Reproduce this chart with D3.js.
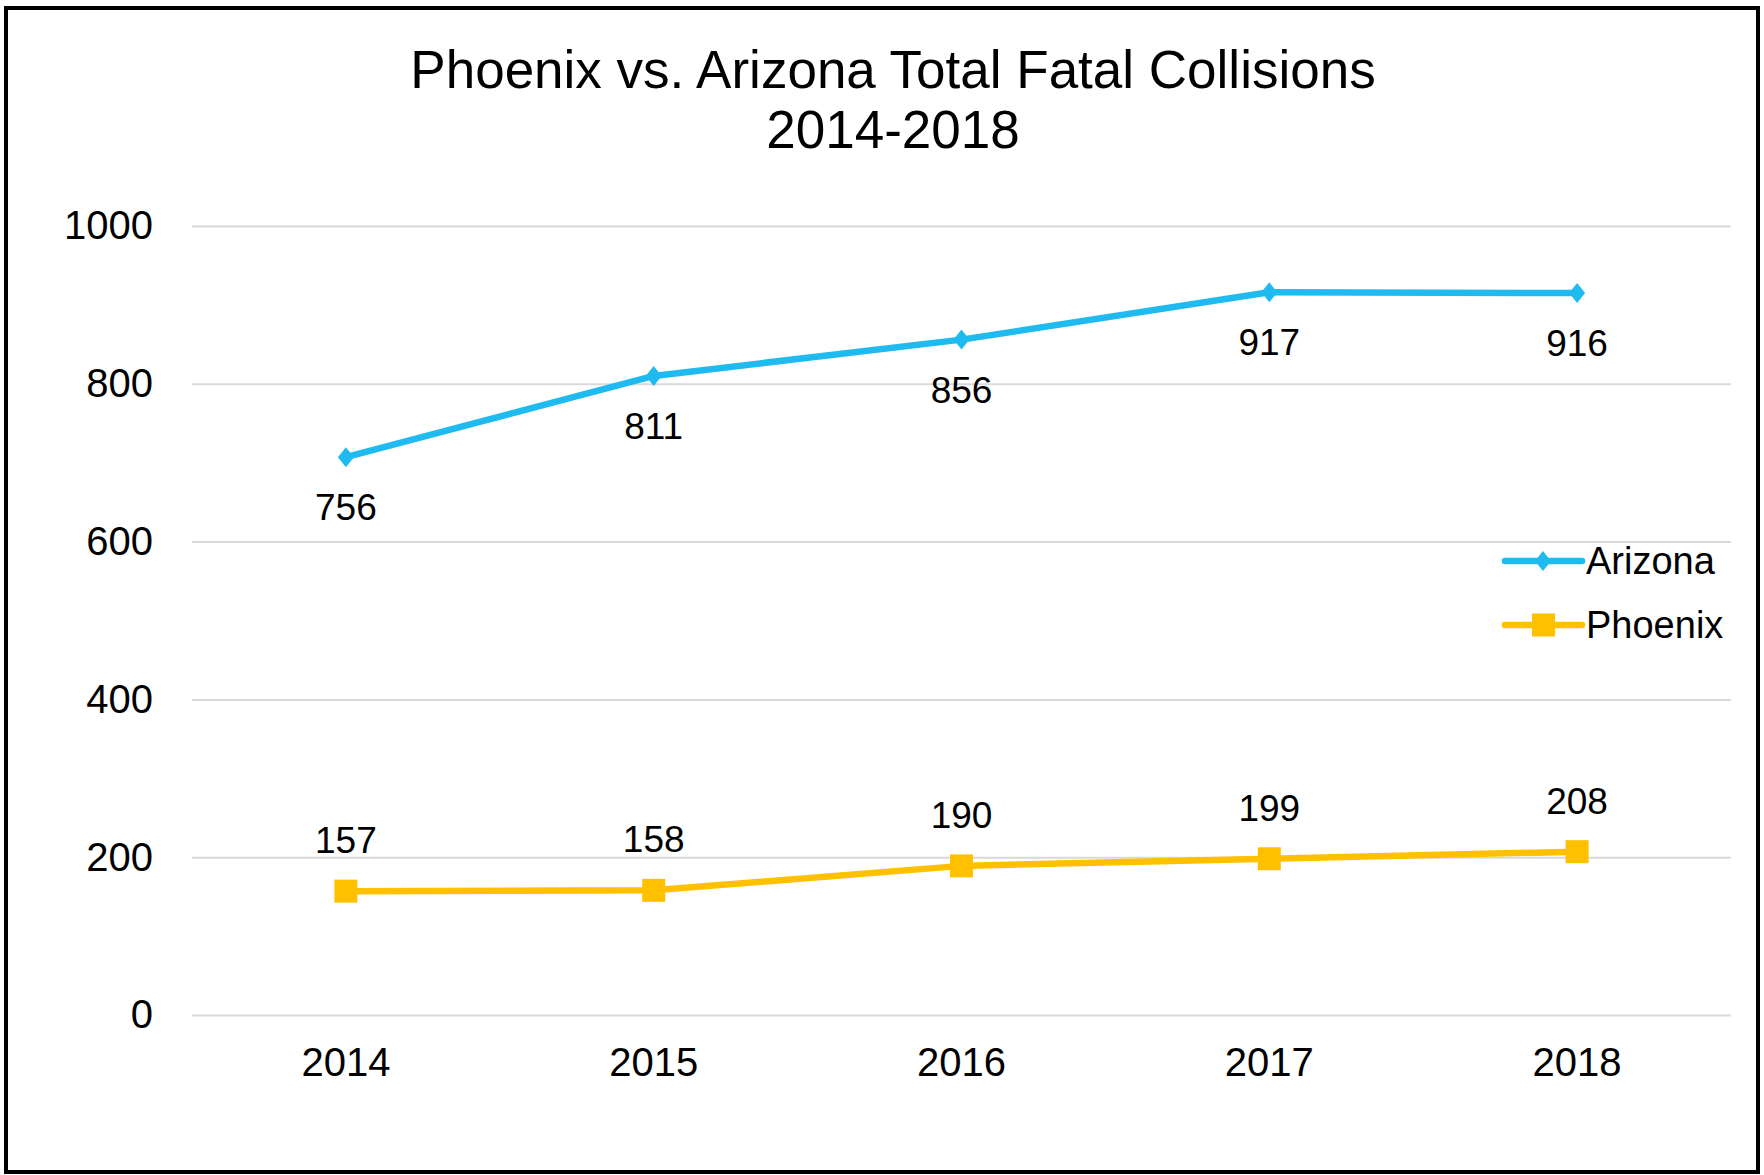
<!DOCTYPE html>
<html>
<head>
<meta charset="utf-8">
<script src="https://cdn.jsdelivr.net/npm/d3@7"></script>
<style>
  html, body { margin: 0; padding: 0; background: #fff; }
  svg { display: block; font-family: "Liberation Sans", Arial, sans-serif; }
</style>
</head>
<body>
<svg id="chart" width="1764" height="1175"></svg>
<script>
const titleLines = ["Phoenix vs. Arizona Total Fatal Collisions", "2014-2018"];
const years = ["2014", "2015", "2016", "2017", "2018"];
const arizona = [707, 810, 856, 916, 915];
const arizonaLabels = ["756", "811", "856", "917", "916"];
const phoenix = [157, 158, 189, 198, 207];
const phoenixLabels = ["157", "158", "190", "199", "208"];
const yTicks = [0, 200, 400, 600, 800, 1000];
const seriesNames = ["Arizona", "Phoenix"];

const W = 1764, H = 1175;
const svg = d3.select("#chart");

svg.append("rect").attr("x", 0).attr("y", 0).attr("width", W).attr("height", H).attr("fill", "#fff");
svg.append("rect").attr("x", 6).attr("y", 8).attr("width", 1752).attr("height", 1164)
  .attr("fill", "none").attr("stroke", "#000").attr("stroke-width", 4);

const plot = { left: 192, right: 1731, top: 226, bottom: 1015 };

const x = d3.scaleBand().domain(years).range([plot.left, plot.right]);
const cx = d => x(d) + x.bandwidth() / 2;
const y = d3.scaleLinear().domain([0, 1000]).range([plot.bottom, plot.top]);

// title
svg.append("g").selectAll("text").data(titleLines).join("text")
  .attr("x", 893).attr("y", (d, i) => 88 + i * 60)
  .attr("text-anchor", "middle").attr("font-size", 53).attr("fill", "#000")
  .text(d => d);

// gridlines
const yAxis = d3.axisLeft(y).tickValues(yTicks).tickSize(-(plot.right - plot.left)).tickPadding(39).tickFormat(d3.format("d"));
const gy = svg.append("g").attr("transform", `translate(${plot.left},0)`).call(yAxis);
gy.select(".domain").remove();
gy.selectAll(".tick line").attr("stroke", "#D9D9D9").attr("stroke-width", 2);
gy.selectAll(".tick text").attr("font-size", 40).attr("fill", "#000")
  .attr("font-family", "'Liberation Sans', Arial, sans-serif");

// x axis
const xAxis = d3.axisBottom(x).tickSize(0).tickPadding(33);
const gx = svg.append("g").attr("transform", `translate(0,${plot.bottom})`).call(xAxis);
gx.select(".domain").remove();
gx.selectAll(".tick text").attr("font-size", 40).attr("fill", "#000")
  .attr("font-family", "'Liberation Sans', Arial, sans-serif");

const blue = "#1FBBF0", gold = "#FFC000";
const line = d3.line().x(d => cx(d.year)).y(d => y(d.value));

const az = years.map((yr, i) => ({ year: yr, value: arizona[i], label: arizonaLabels[i] }));
const px = years.map((yr, i) => ({ year: yr, value: phoenix[i], label: phoenixLabels[i] }));

svg.append("path").datum(az).attr("d", line).attr("fill", "none")
  .attr("stroke", blue).attr("stroke-width", 6.5).attr("stroke-linejoin", "round");
svg.append("path").datum(px).attr("d", line).attr("fill", "none")
  .attr("stroke", gold).attr("stroke-width", 6.5).attr("stroke-linejoin", "round");

const diamond = "M0,-10L8,0L0,10L-8,0Z";
svg.append("g").selectAll("path").data(az).join("path")
  .attr("d", diamond).attr("fill", blue)
  .attr("transform", d => `translate(${cx(d.year)},${y(d.value)})`);
svg.append("g").selectAll("rect").data(px).join("rect")
  .attr("x", d => cx(d.year) - 11.5).attr("y", d => y(d.value) - 11.5)
  .attr("width", 23).attr("height", 23).attr("fill", gold);

// data labels
svg.append("g").selectAll("text").data(az).join("text")
  .attr("x", d => cx(d.year)).attr("y", d => y(d.value) + 63)
  .attr("text-anchor", "middle").attr("font-size", 37).attr("fill", "#000")
  .text(d => d.label);
svg.append("g").selectAll("text").data(px).join("text")
  .attr("x", d => cx(d.year)).attr("y", d => y(d.value) - 38)
  .attr("text-anchor", "middle").attr("font-size", 37).attr("fill", "#000")
  .text(d => d.label);

// legend
const legend = svg.append("g");
const legendY = [561, 625];
const colors = [blue, gold];
seriesNames.forEach((name, i) => {
  const g = legend.append("g").attr("transform", `translate(0,${legendY[i]})`);
  g.append("line").attr("x1", 1505).attr("x2", 1582).attr("y1", 0).attr("y2", 0)
    .attr("stroke", colors[i]).attr("stroke-width", 6.5).attr("stroke-linecap", "round");
  if (i === 0) {
    g.append("path").attr("d", diamond).attr("fill", blue).attr("transform", "translate(1543,0)");
  } else {
    g.append("rect").attr("x", 1532).attr("y", -11.5).attr("width", 23).attr("height", 23).attr("fill", gold);
  }
  g.append("text").attr("x", 1586).attr("y", 0).attr("dy", "0.35em")
    .attr("font-size", 38).attr("fill", "#000").text(name);
});
</script>
</body>
</html>
